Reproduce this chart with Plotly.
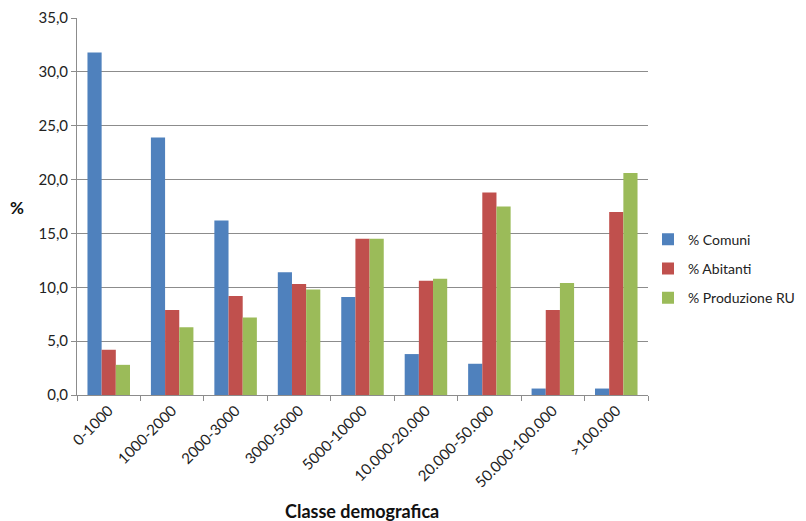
import plotly.graph_objects as go

# Population classes and shares (%)
classi = ["0-1000", "1000-2000", "2000-3000", "3000-5000", "5000-10000",
          "10.000-20.000", "20.000-50.000", "50.000-100.000", ">100.000"]
comuni = [31.8, 23.9, 16.2, 11.4, 9.1, 3.8, 2.9, 0.6, 0.6]
abitanti = [4.2, 7.9, 9.2, 10.3, 14.5, 10.6, 18.8, 7.9, 17.0]
produzione_ru = [2.8, 6.3, 7.2, 9.8, 14.5, 10.8, 17.5, 10.4, 20.6]

serie = [
    ("% Comuni", comuni, "#4F81BD"),
    ("% Abitanti", abitanti, "#C0504D"),
    ("% Produzione RU", produzione_ru, "#9BBB59"),
]

FONT = "Lato, Calibri, 'Open Sans', sans-serif"
GRID = "#8c8c8c"
TXT = "#222222"

# Plot area in pixels
W, H = 806, 521
L, R, T, B = 77, 158, 18, 126
pw = W - L - R
ph = H - T - B

fig = go.Figure()
for i, (nome, valori, colore) in enumerate(serie):
    fig.add_trace(go.Bar(
        x=classi, y=valori, name=nome,
        marker=dict(color=colore, line=dict(width=0)),
        legendgroup=f"g{i}",
    ))

fig.update_layout(
    width=W, height=H,
    margin=dict(l=L, r=R, t=T, b=B, autoexpand=False),
    paper_bgcolor="white", plot_bgcolor="white",
    barmode="group", bargap=0.33, bargroupgap=0,
    separators=",.",
    font=dict(family=FONT, size=14, color=TXT),
    showlegend=True,
    legend=dict(
        x=1.0, xanchor="left", y=0.335, yanchor="middle",
        font=dict(family=FONT, size=14, color=TXT),
        tracegroupgap=8, itemwidth=30,
    ),
    xaxis=dict(
        tickangle=-45, tickson="boundaries", ticks="outside", ticklen=5,
        tickcolor=GRID, showline=True, linecolor=GRID, linewidth=1,
        tickfont=dict(family=FONT, size=15, color=TXT),
        showgrid=False, automargin=False,
    ),
    yaxis=dict(
        range=[0, 35], dtick=5, tickformat=".1f",
        ticks="outside", ticklen=5, tickcolor=GRID,
        showline=True, linecolor=GRID, linewidth=1,
        showgrid=True, gridcolor=GRID, gridwidth=1,
        zeroline=False, automargin=False,
        tickfont=dict(family=FONT, size=15, color=TXT),
    ),
    annotations=[
        dict(text="<b>%</b>", x=(17 - L) / pw, y=(395 - 207) / ph,
             xref="paper", yref="paper", xanchor="center", yanchor="middle",
             showarrow=False, font=dict(family=FONT, size=17, color="#111111")),
        dict(text="<b>Classe demografica</b>", x=(362 - L) / pw, y=(395 - 511) / ph,
             xref="paper", yref="paper", xanchor="center", yanchor="middle",
             showarrow=False, font=dict(family=FONT, size=18, color="#111111")),
    ],
)

fig.write_html("out.html")
